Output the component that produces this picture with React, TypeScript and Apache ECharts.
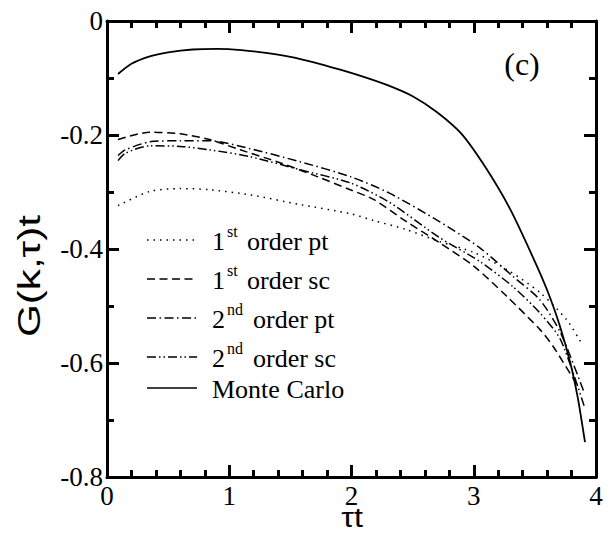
import React, { useEffect, useRef } from "react";
import * as echarts from "echarts";

// Data: [τt, G(k,τ)t]
const monteCarlo: [number, number][] = [
  [0.09, -0.093], [0.2, -0.075], [0.35, -0.062], [0.5, -0.055], [0.7, -0.05],
  [0.9, -0.049], [1.1, -0.051], [1.3, -0.056], [1.5, -0.063], [1.7, -0.073],
  [1.9, -0.085], [2.1, -0.098], [2.3, -0.113], [2.5, -0.132], [2.7, -0.16],
  [2.9, -0.198], [3.1, -0.258], [3.3, -0.331], [3.5, -0.422], [3.6, -0.472],
  [3.7, -0.532], [3.79, -0.6], [3.85, -0.66], [3.91, -0.739],
];
const firstOrderPt: [number, number][] = [
  [0.09, -0.324], [0.35, -0.299], [0.6, -0.294], [0.84, -0.296], [1.17, -0.305],
  [1.58, -0.322], [1.99, -0.338], [2.18, -0.35], [2.45, -0.366], [2.72, -0.387],
  [3.0, -0.406], [3.27, -0.436], [3.54, -0.476], [3.76, -0.524], [3.88, -0.565],
];
const firstOrderSc: [number, number][] = [
  [0.09, -0.208], [0.35, -0.195], [0.6, -0.198], [0.84, -0.208], [1.09, -0.226],
  [1.42, -0.249], [1.72, -0.273], [1.99, -0.296], [2.18, -0.313], [2.45, -0.352],
  [2.72, -0.389], [3.0, -0.43], [3.27, -0.483], [3.54, -0.541], [3.65, -0.571],
  [3.85, -0.64],
];
const secondOrderPt: [number, number][] = [
  [0.09, -0.236], [0.15, -0.226], [0.35, -0.212], [0.6, -0.21], [0.84, -0.21],
  [1.17, -0.224], [1.58, -0.247], [1.99, -0.273], [2.31, -0.302], [2.72, -0.352],
  [3.05, -0.398], [3.32, -0.448], [3.54, -0.489], [3.71, -0.547], [3.9, -0.65],
];
const secondOrderSc: [number, number][] = [
  [0.09, -0.245], [0.15, -0.232], [0.35, -0.219], [0.6, -0.22], [0.84, -0.226],
  [1.17, -0.238], [1.58, -0.261], [1.99, -0.284], [2.31, -0.318], [2.72, -0.38],
  [3.05, -0.422], [3.32, -0.466], [3.54, -0.512], [3.71, -0.559], [3.91, -0.68],
];

const xRange = { min: 0, max: 4, interval: 1 };
const yRange = { min: -0.8, max: 0, interval: 0.2 };

const dotted = [1.5, 5];
const dashed = [8, 4.5];
const dashDot = [9, 3.5, 1.5, 3.5];
const dashDotDot = [9, 3, 1.5, 3, 1.5, 3];

const legendRows = [
  { num: "1", sup: "st", rest: "order pt", dash: dotted, supW: 0 },
  { num: "1", sup: "st", rest: "order sc", dash: dashed, supW: 0 },
  { num: "2", sup: "nd", rest: "order pt", dash: dashDot, supW: 6 },
  { num: "2", sup: "nd", rest: "order sc", dash: dashDotDot, supW: 6 },
];

const SERIF = "Liberation Serif";
const SANS = "Liberation Sans";
const TICK = "#000";

function makeAxis(kind: "x" | "y", position: string, withLabels: boolean) {
  const range = kind === "x" ? xRange : yRange;
  return {
    type: "value",
    ...range,
    position,
    show: true,
    axisLine: { show: true, onZero: false, lineStyle: { color: "#000", width: 3 } },
    axisTick: { show: true, inside: true, length: 12, lineStyle: { color: TICK, width: 3 } },
    minorTick: { show: true, splitNumber: kind === "x" ? 5 : 2, length: 7, lineStyle: { color: TICK, width: 3 } },
    splitLine: { show: false },
    minorSplitLine: { show: false },
    axisLabel: withLabels
      ? {
          show: true,
          color: "#000",
          fontFamily: SERIF,
          fontSize: 27,
          margin: kind === "x" ? 5 : 4,
          formatter: (v: number) => (v === 0 ? "0" : String(Math.round(v * 10) / 10)),
        }
      : { show: false },
  };
}

export default function App() {
  const ref = useRef<HTMLDivElement>(null);
  useEffect(() => {
    if (!ref.current) return;
    const chart = echarts.init(ref.current, undefined, { renderer: "svg" });

    const mkSeries = (name: string, data: [number, number][], type: any, width: number) => ({
      name,
      type: "line",
      data,
      smooth: 0.25,
      showSymbol: false,
      symbol: "none",
      lineStyle: { color: "#000", width, type },
      z: 3,
    });

    const txt = (text: string, x: number, y: number, size: number, family: string, extra: any = {}) => ({
      type: "text",
      x,
      y,
      ...extra,
      style: {
        text,
        fontSize: size,
        fontFamily: family,
        fill: "#000",
        textAlign: extra.align || "left",
        textVerticalAlign: "middle",
      },
    });

    const graphics: any[] = [];
    const rowYs = [240, 279, 318, 357];
    legendRows.forEach((r, i) => {
      const y = rowYs[i];
      graphics.push({
        type: "line",
        shape: { x1: 147, y1: y, x2: 197, y2: y },
        style: { stroke: "#000", lineWidth: 1.5, lineDash: r.dash },
      });
      graphics.push(txt(r.num, 212, y + 1, 26, SERIF));
      graphics.push(txt(r.sup, 227, y - 9, 16, SERIF));
      graphics.push(txt(r.rest, 247 + r.supW, y + 1, 26, SERIF));
    });
    graphics.push({
      type: "line",
      shape: { x1: 147, y1: 388, x2: 197, y2: 388 },
      style: { stroke: "#000", lineWidth: 1.5 },
    });
    graphics.push(txt("Monte Carlo", 212, 389, 26, SERIF));
    graphics.push(txt("(c)", 522, 64, 32, SERIF, { align: "center" }));
    graphics.push(txt("G(k,τ)t", 30, 276, 31, SANS, { align: "center", rotation: Math.PI / 2, scaleX: 1.36 }));
    graphics.push(txt("τt", 352, 517, 28, SANS, { align: "center", scaleX: 1.15 }));

    chart.setOption({
      animation: false,
      backgroundColor: "#fff",
      grid: { left: 107, right: 13, top: 21, bottom: 62, containLabel: false },
      xAxis: [makeAxis("x", "bottom", true), makeAxis("x", "top", false)],
      yAxis: [makeAxis("y", "left", true), makeAxis("y", "right", false)],
      series: [
        mkSeries("1st order pt", firstOrderPt, dotted, 1.5),
        mkSeries("1st order sc", firstOrderSc, dashed, 1.5),
        mkSeries("2nd order pt", secondOrderPt, dashDot, 1.5),
        mkSeries("2nd order sc", secondOrderSc, dashDotDot, 1.5),
        mkSeries("Monte Carlo", monteCarlo, "solid", 1.8),
      ],
      graphic: graphics,
    });
    return () => chart.dispose();
  }, []);
  return <div ref={ref} style={{ position: "fixed", left: 0, top: 0, width: 609, height: 539 }} />;
}
